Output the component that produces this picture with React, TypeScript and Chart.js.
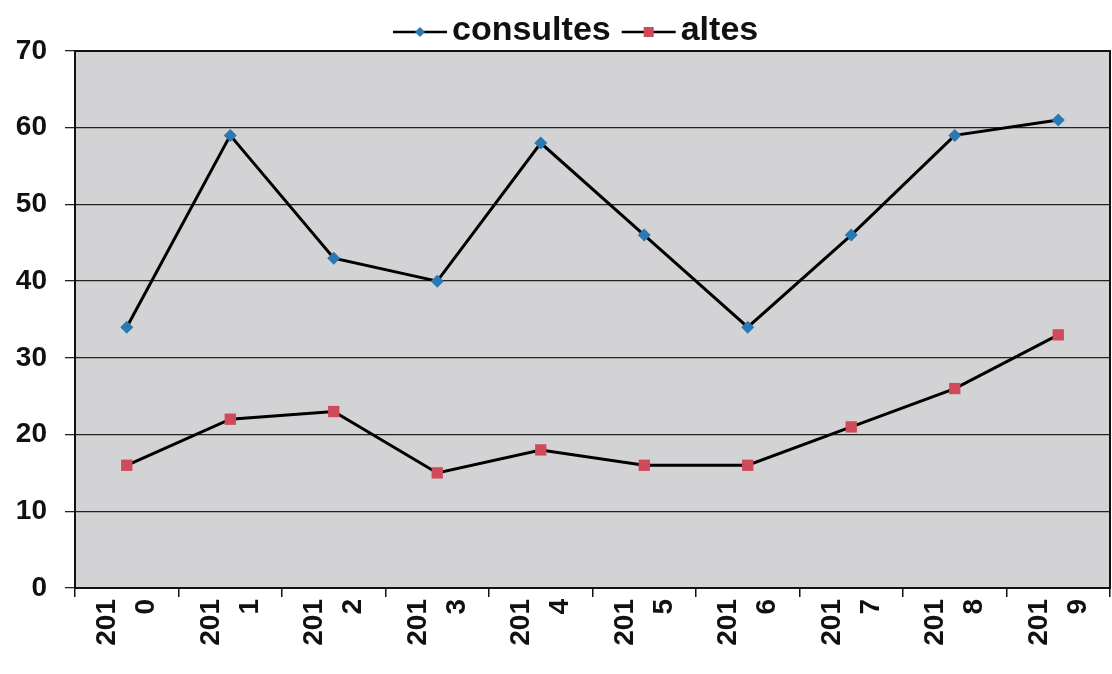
import React, { useEffect, useRef } from "react";
import { Chart, registerables } from "chart.js";

Chart.register(...registerables);

const years: string[][] = [
  ["201", "0"], ["201", "1"], ["201", "2"], ["201", "3"], ["201", "4"],
  ["201", "5"], ["201", "6"], ["201", "7"], ["201", "8"], ["201", "9"],
];
const consultes: number[] = [34, 59, 43, 40, 58, 46, 34, 46, 59, 61];
const altes: number[] = [16, 22, 23, 15, 18, 16, 16, 21, 26, 33];
const seriesNames: string[] = ["consultes", "altes"];

const FONT = '"Liberation Sans", Arial, Helvetica, sans-serif';
const BLUE = "#2a78b4";
const RED = "#cf4a5a";
const PLOT_BG = "#d3d3d5";

const plotFrame = {
  id: "plotFrame",
  beforeDraw(chart: any) {
    const { ctx, chartArea: a } = chart;
    ctx.save();
    ctx.fillStyle = PLOT_BG;
    ctx.fillRect(a.left, a.top, a.right - a.left, a.bottom - a.top);
    ctx.restore();
  },
  afterDraw(chart: any) {
    const { ctx, chartArea: a } = chart;
    ctx.save();
    ctx.strokeStyle = "#111";
    ctx.lineWidth = 2;
    ctx.strokeRect(a.left, a.top, a.right - a.left, a.bottom - a.top);
    // legend
    const y = 31;
    let x = 393;
    const lineW = 54;
    ctx.font = `bold 34px ${FONT}`;
    ctx.textBaseline = "middle";
    ctx.textAlign = "left";
    seriesNames.forEach((name, i) => {
      ctx.strokeStyle = "#000";
      ctx.lineWidth = 2.5;
      ctx.beginPath();
      ctx.moveTo(x, y + 1);
      ctx.lineTo(x + lineW, y + 1);
      ctx.stroke();
      const cx = x + lineW / 2;
      if (i === 0) {
        ctx.fillStyle = BLUE;
        ctx.beginPath();
        ctx.moveTo(cx, y + 1 - 5);
        ctx.lineTo(cx + 5, y + 1);
        ctx.lineTo(cx, y + 1 + 5);
        ctx.lineTo(cx - 5, y + 1);
        ctx.closePath();
        ctx.fill();
      } else {
        ctx.fillStyle = RED;
        ctx.fillRect(cx - 5, y + 1 - 5, 10, 10);
      }
      ctx.fillStyle = "#111";
      const tx = x + lineW + 5;
      ctx.fillText(name, tx, y);
      x = tx + ctx.measureText(name).width + 11;
    });
    ctx.restore();
  },
};

export default function App() {
  const ref = useRef<HTMLCanvasElement | null>(null);
  useEffect(() => {
    document.body.style.margin = "0";
    if (!ref.current) return;
    const chart = new Chart(ref.current, {
      type: "line",
      data: {
        labels: years,
        datasets: [
          {
            label: seriesNames[0],
            data: consultes,
            borderColor: "#000",
            borderWidth: 3,
            pointStyle: "rectRot",
            pointRadius: 6.5,
            pointBackgroundColor: BLUE,
            pointBorderColor: BLUE,
            pointBorderWidth: 0,
            tension: 0,
          },
          {
            label: seriesNames[1],
            data: altes,
            borderColor: "#000",
            borderWidth: 3,
            pointStyle: "rect",
            pointRadius: 8,
            pointBackgroundColor: RED,
            pointBorderColor: RED,
            pointBorderWidth: 0,
            tension: 0,
          },
        ],
      },
      options: {
        animation: false,
        responsive: true,
        maintainAspectRatio: false,
        layout: { autoPadding: false, padding: { top: 51, right: 2, left: 0, bottom: 0 } },
        plugins: {
          legend: { display: false },
          tooltip: { enabled: false },
        },
        scales: {
          x: {
            type: "category",
            offset: true,
            afterFit: (s: any) => {
              s.height = 86;
              s.paddingLeft = 0;
              s.paddingRight = 0;
            },
            grid: {
              offset: true,
              drawOnChartArea: false,
              drawTicks: true,
              tickLength: 9,
              color: "#111",
              lineWidth: 1.5,
            },
            border: { color: "#111", width: 2 },
            ticks: {
              minRotation: 90,
              maxRotation: 90,
              autoSkip: false,
              padding: 2,
              labelOffset: -19,
              color: "#111",
              font: { family: FONT, size: 28, weight: "bold", lineHeight: 1.38 },
            },
          },
          y: {
            min: 0,
            max: 70,
            afterFit: (s: any) => {
              s.width = 75;
            },
            grid: {
              color: "#222",
              lineWidth: 1.3,
              tickLength: 10,
              drawTicks: true,
            },
            border: { color: "#111", width: 2 },
            ticks: {
              stepSize: 10,
              padding: 18,
              color: "#111",
              font: { family: FONT, size: 28, weight: "bold" },
            },
          },
        },
      },
      plugins: [plotFrame],
    } as any);
    return () => chart.destroy();
  }, []);
  return (
    <div style={{ position: "relative", width: 1112, height: 674, background: "#fff" }}>
      <canvas ref={ref} />
    </div>
  );
}
